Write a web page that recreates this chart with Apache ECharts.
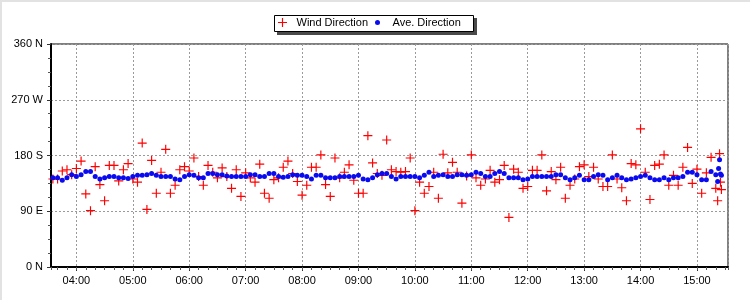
<!DOCTYPE html>
<html>
<head>
<meta charset="utf-8">
<script src="https://cdn.jsdelivr.net/npm/echarts@6/dist/echarts.min.js"></script>
<style>
html,body{margin:0;padding:0;background:#fff;}
#chart{width:750px;height:300px;}
</style>
</head>
<body>
<div id="chart"></div>
<script>
// Sample times (HH:MM)
var times = [
"03:35","03:40","03:45","03:50","03:55",
"04:00","04:05","04:10","04:15","04:20","04:25","04:30","04:35","04:40","04:45","04:50","04:55",
"05:00","05:05","05:10","05:15","05:20","05:25","05:30","05:35","05:40","05:45","05:50","05:55",
"06:00","06:05","06:10","06:15","06:20","06:25","06:30","06:35","06:40","06:45","06:50","06:55",
"07:00","07:05","07:10","07:15","07:20","07:25","07:30","07:35","07:40","07:45","07:50","07:55",
"08:00","08:05","08:10","08:15","08:20","08:25","08:30","08:35","08:40","08:45","08:50","08:55",
"09:00","09:05","09:10","09:15","09:20","09:25","09:30","09:35","09:40","09:45","09:50","09:55",
"10:00","10:05","10:10","10:15","10:20","10:25","10:30","10:35","10:40","10:45","10:50","10:55",
"11:00","11:05","11:10","11:15","11:20","11:25","11:30","11:35","11:40","11:45","11:50","11:55",
"12:00","12:05","12:10","12:15","12:20","12:25","12:30","12:35","12:40","12:45","12:50","12:55",
"13:00","13:05","13:10","13:15","13:20","13:25","13:30","13:35","13:40","13:45","13:50","13:55",
"14:00","14:05","14:10","14:15","14:20","14:25","14:30","14:35","14:40","14:45","14:50","14:55",
"15:00","15:05","15:10","15:15","15:20",
"15:22","15:23","15:24","15:25","15:26"
];

// Wind Direction (degrees)
var windDirection = [
142,142,155,157,149,159,171,118,91,162,
133,107,164,164,139,157,167,142,137,200,
93,172,119,153,190,119,132,157,162,155,
176,146,132,164,153,144,160,
146,127,157,114,152,144,137,166,119,111,
141,144,161,171,151,138,116,132,161,161,
181,133,114,176,144,153,165,140,119,119,
212,168,151,148,205,157,154,153,
154,176,91,137,119,130,153,111,182,152,
169,153,103,147,181,144,132,142,156,137,
141,164,80,158,153,127,130,156,156,181,
123,154,141,161,111,132,142,
162,165,146,161,142,130,130,181,142,128,
107,167,165,223,153,109,164,166,181,132,
148,132,161,193,135,158,119,152,177,127,
107,null,183,137,125
];

// Ave. Direction (degrees)
var aveDirection = [
144,144,140,144,149,146,149,154,154,146,
142,144,146,146,144,144,143,146,148,148,
149,151,148,146,146,146,142,141,146,149,
148,144,144,151,151,149,149,
147,146,146,146,146,149,149,146,146,151,
151,146,145,146,149,148,148,146,142,148,
148,144,144,144,146,146,146,146,148,142,
141,144,149,151,151,146,142,146,
146,146,146,144,148,153,146,148,149,146,
146,149,149,148,149,153,151,146,146,151,
154,151,144,144,144,141,142,146,146,146,
146,146,149,149,144,141,144,
148,141,141,146,149,148,141,144,148,144,
141,142,144,146,148,144,141,141,144,141,
144,144,146,153,153,149,141,141,154,149,
138,159,173,150,148
];

var yTickLabels = ["0 N","90 E","180 S","270 W","360 N"];
var xStart = "03:33", xEnd = "15:33";

function toTime(s){
  var p = s.split(":");
  return new Date(2024,0,1,parseInt(p[0],10),parseInt(p[1],10)).getTime();
}
function pad(n){ return (n<10?"0":"")+n; }

var windData = [], aveData = [];
for (var i=0;i<times.length;i++){
  if (windDirection[i] != null) windData.push([toTime(times[i]), windDirection[i]]);
  if (aveDirection[i] != null) aveData.push([toTime(times[i]), aveDirection[i]]);
}

var FONT = "'Liberation Sans', Arial, sans-serif";
var crossPath = "path://M0,4.35H10V5.65H0ZM4.35,0H5.65V10H4.35Z";

var chart = echarts.init(document.getElementById("chart"), null, {renderer:"canvas"});
chart.setOption({
  animation:false,
  backgroundColor:"#fff",
  textStyle:{fontFamily:FONT},
  graphic:[
    {type:"rect", z:1, shape:{x:0,y:0,width:750,height:2}, style:{fill:"#e2e2e2"}},
    {type:"rect", z:1, shape:{x:0,y:0,width:2,height:300}, style:{fill:"#e2e2e2"}},
    {type:"rect", z:1, shape:{x:277,y:18,width:200,height:17}, style:{fill:"#4a4a4a"}},
    {type:"rect", z:2, shape:{x:274.5,y:15.5,width:199,height:16}, style:{fill:"#fff",stroke:"#000",lineWidth:1}}
  ],
  legend:[
    {data:["Wind Direction"], left:278, top:17, padding:0, z:10,
     itemWidth:18, itemHeight:9, symbolKeepAspect:true,
     textStyle:{fontSize:11, color:"#000", fontFamily:FONT}},
    {data:["Ave. Direction"], left:375, top:17, padding:0, z:10,
     itemWidth:20, itemHeight:5, symbolKeepAspect:true, icon:"circle",
     textStyle:{fontSize:11, color:"#000", fontFamily:FONT}}
  ],
  grid:{left:51, right:22, top:44, bottom:33, show:true, borderColor:"#000", borderWidth:1, backgroundColor:"transparent"},
  xAxis:[
    {type:"time", gridIndex:0, position:"bottom", min:toTime(xStart), max:toTime(xEnd),
     minInterval:3600000, maxInterval:3600000, splitNumber:12,
     axisLine:{show:true, lineStyle:{color:"#000", width:2}},
     axisTick:{show:true, length:4, lineStyle:{color:"#333"}},
     axisLabel:{show:true, fontSize:11, color:"#000", margin:8, fontFamily:FONT,
       showMinLabel:false, showMaxLabel:false,
       formatter:function(v){ var d=new Date(v); return pad(d.getHours())+":"+pad(d.getMinutes()); }},
     splitLine:{show:true, lineStyle:{color:"#9a9a9a", type:[2,2], width:1}}
    },
    {type:"time", gridIndex:0, position:"bottom", offset:0, min:toTime(xStart), max:toTime(xEnd),
     minInterval:900000, maxInterval:900000, splitNumber:48,
     axisLine:{show:false},
     axisTick:{show:true, length:3, lineStyle:{color:"#555"}},
     axisLabel:{show:false},
     splitLine:{show:false}
    }
  ],
  yAxis:{type:"value", min:0, max:360, interval:90,
    axisLine:{show:true, lineStyle:{color:"#000", width:2}},
    axisTick:{show:true, length:4, lineStyle:{color:"#333"}},
    minorTick:{show:true, splitNumber:4, length:3, lineStyle:{color:"#555"}},
    axisLabel:{fontSize:11, color:"#000", margin:8, fontFamily:FONT,
      formatter:function(v){ return yTickLabels[Math.round(v/90)]; }},
    splitLine:{show:true, lineStyle:{color:"#9a9a9a", type:[2,2], width:1}}
  },
  series:[
    {name:"Wind Direction", type:"scatter", xAxisIndex:0, data:windData,
     symbol:crossPath, symbolSize:9, itemStyle:{color:"#ff0000", opacity:1}, z:2},
    {name:"Ave. Direction", type:"scatter", xAxisIndex:0, data:aveData,
     symbol:"circle", symbolSize:5, itemStyle:{color:"#0a0af0", opacity:1}, z:3}
  ]
});
</script>
</body>
</html>
